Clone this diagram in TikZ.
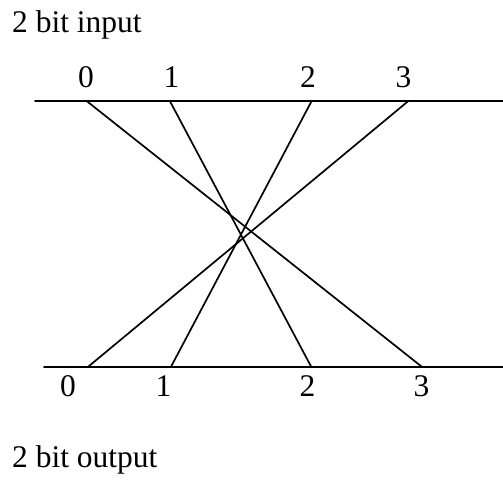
\documentclass[tikz,border=0pt]{standalone}
\usepackage{fontspec}
\setmainfont{Liberation Serif}
\begin{document}
\begin{tikzpicture}[x=1pt,y=-1pt,
  wire/.style={line width=1.7pt,line cap=round},
  lbl/.style={inner sep=0pt,anchor=base,font=\fontsize{31.5}{36}\selectfont},
  ttl/.style={inner sep=0pt,anchor=base west,font=\fontsize{31.5}{36}\selectfont}]
\useasboundingbox (0,0) rectangle (503,483);
\node[ttl] (tin) at (12,32) {2 bit input};
\node[ttl] (tout) at (12,467) {2 bit output};
% top bus
\coordinate (tl) at (35,101.3);
\coordinate (tr) at (503,101.3);
\coordinate (t0) at (87,101.3);
\coordinate (t1) at (170,101.3);
\coordinate (t2) at (311.5,101.3);
\coordinate (t3) at (408,101.3);
% bottom bus
\coordinate (bl) at (44,367.3);
\coordinate (br) at (503,367.3);
\coordinate (b0) at (87.5,367.3);
\coordinate (b1) at (170.7,367.3);
\coordinate (b2) at (311.5,367.3);
\coordinate (b3) at (422.5,367.3);
\draw[wire] (tl) -- (tr);
\draw[wire] (bl) -- (br);
\draw[wire] (t0) -- (b3);
\draw[wire] (t1) -- (b2);
\draw[wire] (t2) -- (b1);
\draw[wire] (t3) -- (b0);
% labels
\node[lbl] (lt0) at (86,87.5) {0};
\node[lbl] (lt1) at (171.5,87.5) {1};
\node[lbl] (lt2) at (308,87.5) {2};
\node[lbl] (lt3) at (403.5,87.5) {3};
\node[lbl] (lb0) at (68,396.7) {0};
\node[lbl] (lb1) at (163.5,396.7) {1};
\node[lbl] (lb2) at (307.5,396.7) {2};
\node[lbl] (lb3) at (421.5,396.7) {3};
\end{tikzpicture}
\end{document}
